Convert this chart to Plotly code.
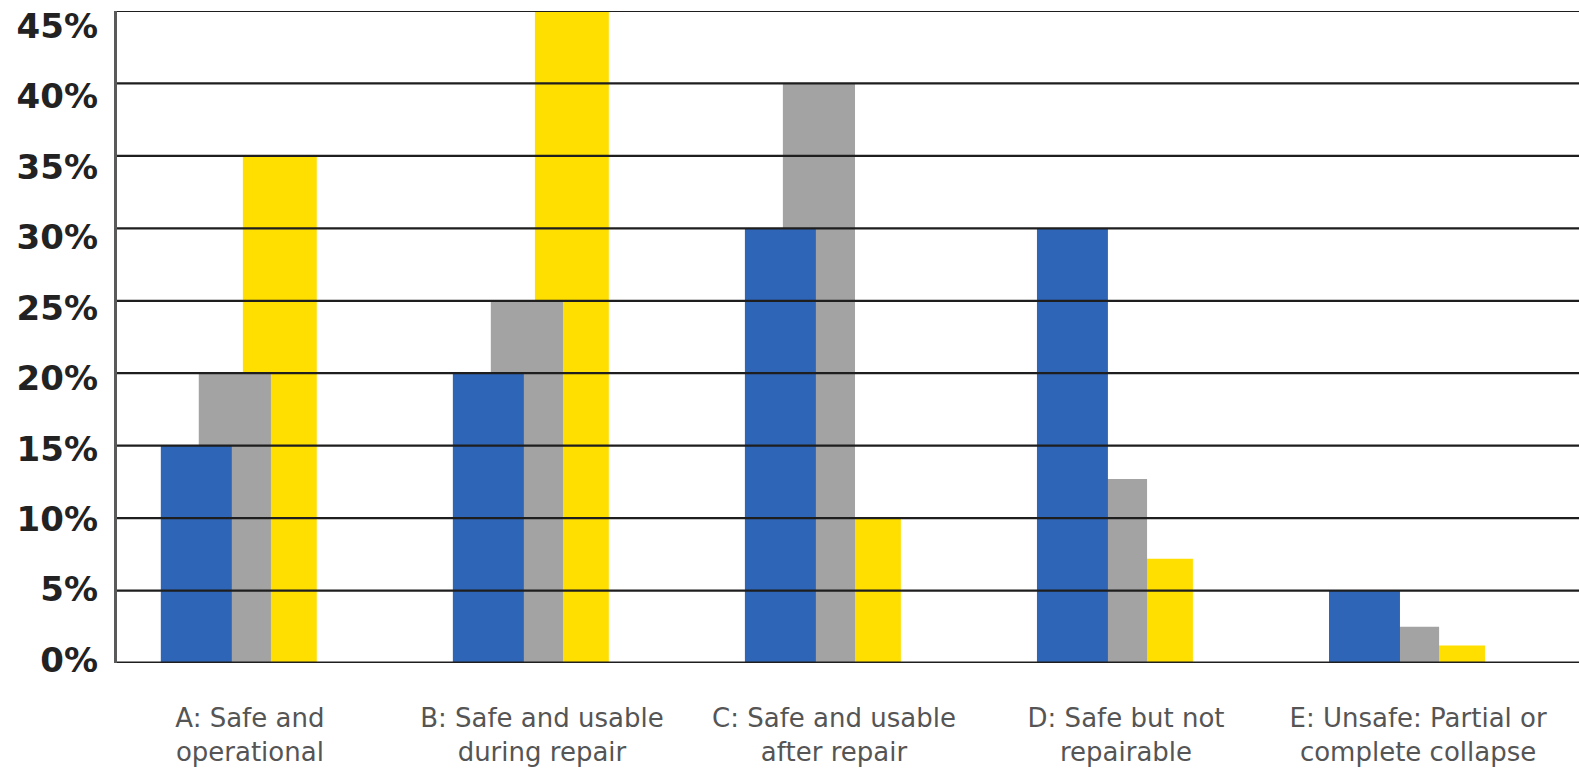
import plotly.graph_objects as go

# Damage-state categories
categories = [
    "A: Safe and<br>operational",
    "B: Safe and usable<br>during repair",
    "C: Safe and usable<br>after repair",
    "D: Safe but not<br>repairable",
    "E: Unsafe: Partial or<br>complete collapse",
]

# Share of buildings per damage state (%)
series_blue = [15, 20, 30, 30, 5]
series_gray = [20, 25, 40, 12.7, 2.5]
series_yellow = [35, 45, 10, 7.2, 1.2]

y_ticks = [0, 5, 10, 15, 20, 25, 30, 35, 40, 45]
y_tick_text = [f"{v}%" for v in y_ticks]

BLUE = "#2E65B6"
GRAY = "#A3A3A3"
YELLOW = "#FFDF00"

fig = go.Figure()

# Overlapping bars: yellow at the back, gray in the middle, blue in front
fig.add_trace(go.Bar(x=categories, y=series_yellow, name="Series 3",
                     marker=dict(color=YELLOW, line_width=0),
                     offset=-0.024, width=0.253))
fig.add_trace(go.Bar(x=categories, y=series_gray, name="Series 2",
                     marker=dict(color=GRAY, line_width=0),
                     offset=-0.175, width=0.247))
fig.add_trace(go.Bar(x=categories, y=series_blue, name="Series 1",
                     marker=dict(color=BLUE, line_width=0),
                     offset=-0.305, width=0.243))

# Non-drawing trace so the percentage label axis gets rendered
fig.add_trace(go.Scatter(x=categories, y=series_blue, yaxis="y2", mode="none",
                         hoverinfo="skip", showlegend=False))

# Horizontal rules drawn over the bars at each tick (baseline a bit heavier)
for v in y_ticks:
    fig.add_shape(type="line", xref="paper", x0=0, x1=1, yref="y", y0=v, y1=v,
                  line=dict(color="#1e1e1e", width=3 if v == 0 else 2.2),
                  layer="above")

fig.update_layout(
    width=1579,
    height=768,
    margin=dict(l=117, r=0, t=11, b=105),
    paper_bgcolor="white",
    plot_bgcolor="white",
    barmode="overlay",
    showlegend=False,
    xaxis=dict(
        type="category",
        range=[-0.455, 4.551],
        showgrid=False,
        showline=False,
        zeroline=False,
        ticks="",
        ticklabelstandoff=37,
        tickfont=dict(family="DejaVu Sans", size=26, color="#555555"),
    ),
    yaxis=dict(
        range=[0, 45],
        showgrid=False,
        zeroline=False,
        showline=True,
        linecolor="#5a5a5a",
        linewidth=2.5,
        showticklabels=False,
        ticks="",
    ),
    # Label column for the percentage scale
    yaxis2=dict(
        overlaying="y",
        anchor="x",
        side="left",
        range=[-0.213, 46.07],
        tickvals=y_ticks,
        ticktext=y_tick_text,
        showgrid=False,
        zeroline=False,
        showline=False,
        ticks="",
        ticklabelstandoff=18,
        tickfont=dict(family="DejaVu Sans", size=34, color="#222222", weight="bold"),
    ),
)

fig.write_html("out.html")
